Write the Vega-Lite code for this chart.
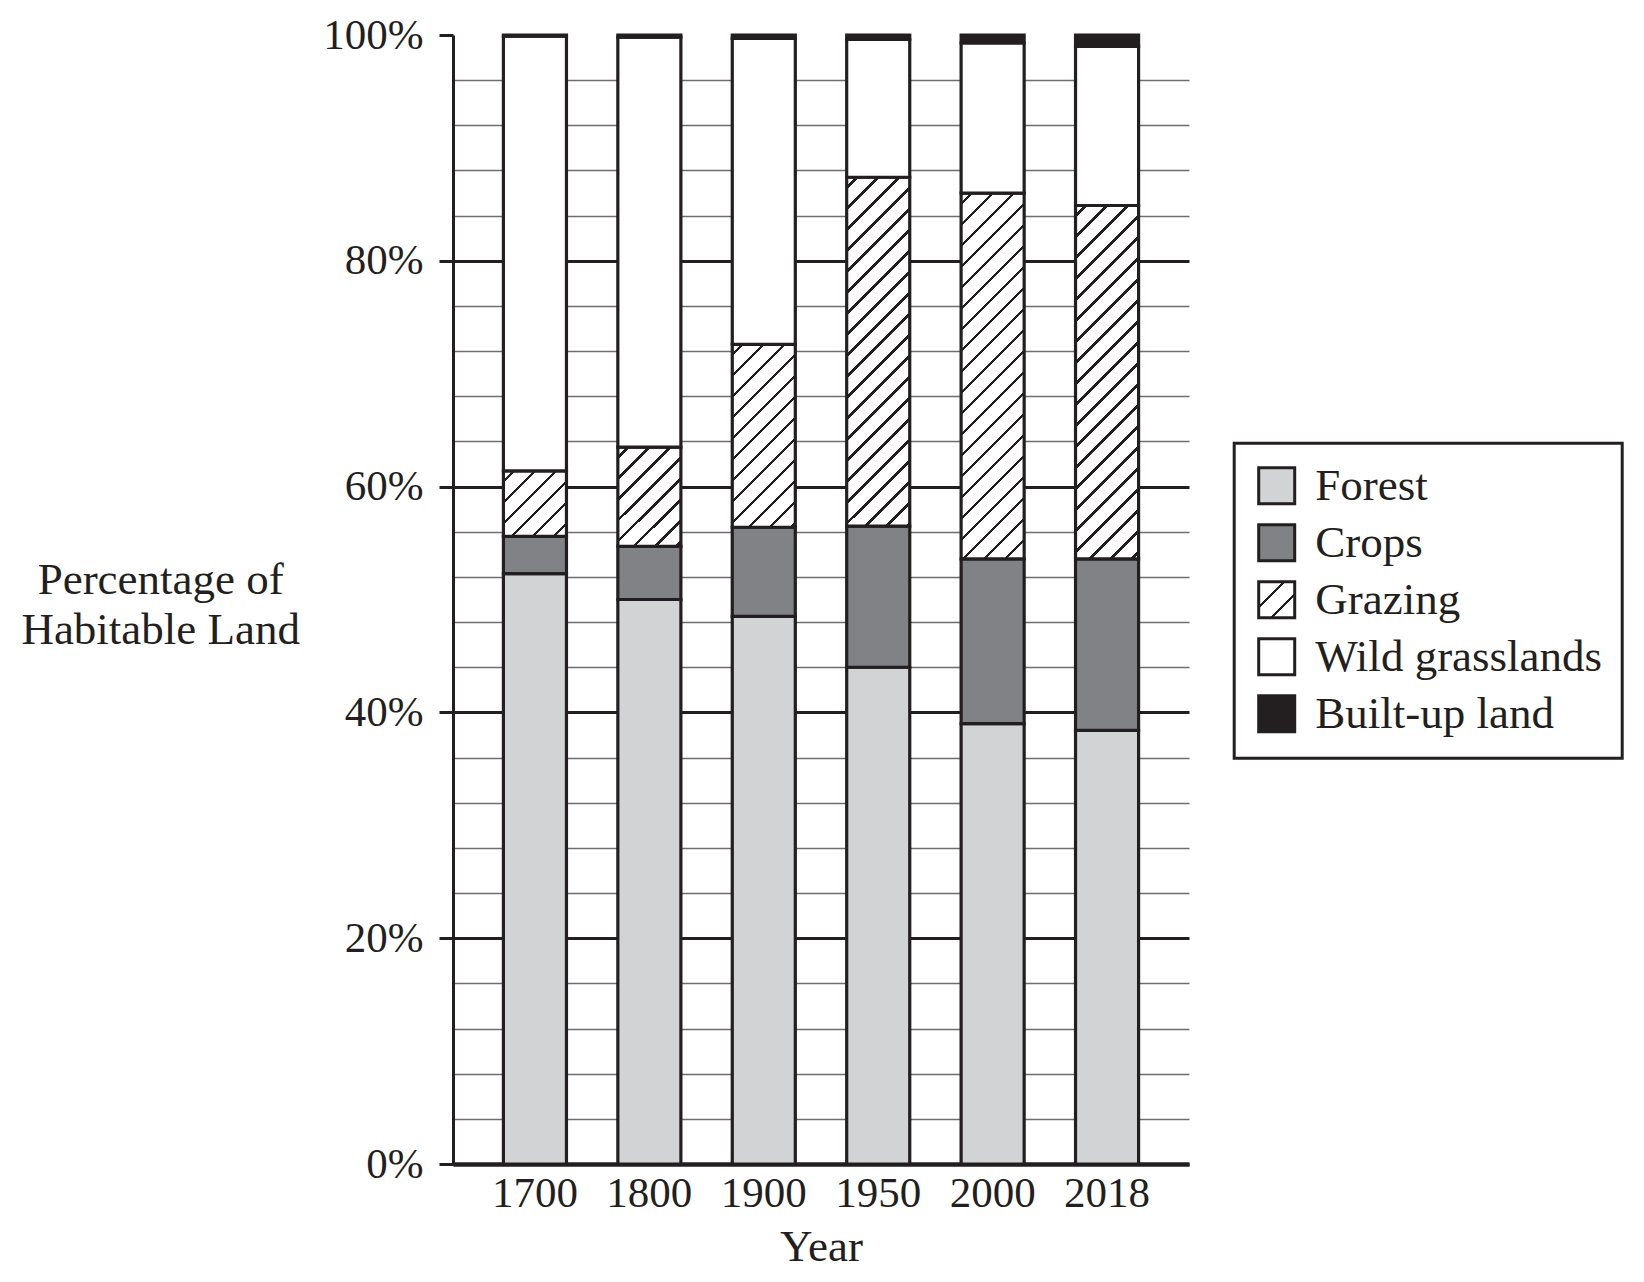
{
  "$schema": "https://vega.github.io/schema/vega-lite/v6.json",
  "autosize": {"type": "none"},
  "padding": {"left": 453, "top": 35, "right": 455, "bottom": 118},
  "width": 736,
  "height": 1129,
  "background": "#ffffff",
  "config": {
    "view": {"stroke": null},
    "font": "Liberation Serif",
    "legend": {"strokeWidth": 3}
  },
  "data": {
    "values": [
      {"Year": "1700", "Category": "Forest", "Value": 52.3},
      {"Year": "1700", "Category": "Crops", "Value": 3.3},
      {"Year": "1700", "Category": "Grazing", "Value": 5.8},
      {"Year": "1700", "Category": "Wild grasslands", "Value": 38.5},
      {"Year": "1700", "Category": "Built-up land", "Value": 0.1},
      {"Year": "1800", "Category": "Forest", "Value": 50.0},
      {"Year": "1800", "Category": "Crops", "Value": 4.7},
      {"Year": "1800", "Category": "Grazing", "Value": 8.8},
      {"Year": "1800", "Category": "Wild grasslands", "Value": 36.3},
      {"Year": "1800", "Category": "Built-up land", "Value": 0.2},
      {"Year": "1900", "Category": "Forest", "Value": 48.5},
      {"Year": "1900", "Category": "Crops", "Value": 7.9},
      {"Year": "1900", "Category": "Grazing", "Value": 16.2},
      {"Year": "1900", "Category": "Wild grasslands", "Value": 27.1},
      {"Year": "1900", "Category": "Built-up land", "Value": 0.3},
      {"Year": "1950", "Category": "Forest", "Value": 44.0},
      {"Year": "1950", "Category": "Crops", "Value": 12.5},
      {"Year": "1950", "Category": "Grazing", "Value": 30.9},
      {"Year": "1950", "Category": "Wild grasslands", "Value": 12.2},
      {"Year": "1950", "Category": "Built-up land", "Value": 0.4},
      {"Year": "2000", "Category": "Forest", "Value": 39.0},
      {"Year": "2000", "Category": "Crops", "Value": 14.6},
      {"Year": "2000", "Category": "Grazing", "Value": 32.4},
      {"Year": "2000", "Category": "Wild grasslands", "Value": 13.3},
      {"Year": "2000", "Category": "Built-up land", "Value": 0.7},
      {"Year": "2018", "Category": "Forest", "Value": 38.4},
      {"Year": "2018", "Category": "Crops", "Value": 15.2},
      {"Year": "2018", "Category": "Grazing", "Value": 31.3},
      {"Year": "2018", "Category": "Wild grasslands", "Value": 14.1},
      {"Year": "2018", "Category": "Built-up land", "Value": 1.0}
    ]
  },
  "transform": [
    {"calculate": "indexof(['Forest','Crops','Grazing','Wild grasslands','Built-up land'], datum.Category)", "as": "ord"}
  ],
  "mark": {"type": "bar", "stroke": "#231f20", "strokeWidth": 3.2, "strokeJoin": "miter"},
  "encoding": {
    "x": {
      "field": "Year",
      "type": "nominal",
      "scale": {"paddingInner": 0.449, "paddingOuter": 0.4406},
      "axis": {
        "title": "Year",
        "labelAngle": 0,
        "labelFont": "Liberation Serif",
        "labelFontSize": 43,
        "labelColor": "#231f20",
        "labelBaseline": "alphabetic",
        "labelPadding": 42,
        "ticks": false,
        "tickSize": 0,
        "domainColor": "#231f20",
        "domainWidth": 4.5,
        "titleFont": "Liberation Serif",
        "titleFontSize": 45,
        "titleFontWeight": "normal",
        "titleColor": "#231f20",
        "titleBaseline": "alphabetic",
        "titleY": 96
      }
    },
    "y": {
      "field": "Value",
      "type": "quantitative",
      "stack": "zero",
      "scale": {"domain": [0, 100], "nice": false},
      "axis": {
        "title": ["Percentage of", "Habitable Land"],
        "values": [0, 4, 8, 12, 16, 20, 24, 28, 32, 36, 40, 44, 48, 52, 56, 60, 64, 68, 72, 76, 80, 84, 88, 92, 96, 100],
        "labelExpr": "datum.value % 20 === 0 ? datum.value + '%' : ''",
        "labelFont": "Liberation Serif",
        "labelFontSize": 43,
        "labelColor": "#231f20",
        "labelPadding": 16,
        "labelOverlap": false,
        "labelFlush": false,
        "labelBaseline": "middle",
        "tickSize": 14,
        "tickWidth": 3,
        "tickColor": "#231f20",
        "tickOpacity": {"condition": {"test": "datum.value % 20 === 0", "value": 1}, "value": 0},
        "domainColor": "#231f20",
        "domainWidth": 3,
        "grid": true,
        "gridColor": {"condition": {"test": "datum.value % 20 === 0", "value": "#231f20"}, "value": "#6d6e71"},
        "gridWidth": {"condition": {"test": "datum.value % 20 === 0", "value": 3}, "value": 1.5},
        "gridOpacity": {"condition": {"test": "datum.value === 100", "value": 0}, "value": 1},
        "titleFont": "Liberation Serif",
        "titleFontSize": 45,
        "titleFontWeight": "normal",
        "titleColor": "#231f20",
        "titleAngle": 0,
        "titleAlign": "center",
        "titleBaseline": "alphabetic",
        "titleLineHeight": 50,
        "titleX": -292.8,
        "titleY": 558
      }
    },
    "order": {"field": "ord", "type": "quantitative"},
    "fill": {
      "field": "Category",
      "type": "nominal",
      "scale": {
        "domain": ["Forest", "Crops", "Grazing", "Wild grasslands", "Built-up land"],
        "range": [
          "#d1d3d4",
          "#808285",
          {"expr": "{gradient: 'linear', x1: 0, y1: 0, x2: 1, y2: 1, stops: [{offset: 0, color: '#fff'}, {offset: 0.33, color: '#fff'}, {offset: 0.33, color: '#231f20'}, {offset: 0.375, color: '#231f20'}, {offset: 0.375, color: '#fff'}, {offset: 0.65, color: '#fff'}, {offset: 0.65, color: '#231f20'}, {offset: 0.695, color: '#231f20'}, {offset: 0.695, color: '#fff'}, {offset: 1, color: '#fff'}]}"},
          "#ffffff",
          "#231f20"
        ]
      },
      "legend": {
        "title": null,
        "orient": "none",
        "legendX": 781.2,
        "legendY": 408.2,
        "strokeColor": "#231f20",
        "padding": 20,
        "rowPadding": 8,
        "labelOffset": 16,
        "labelFont": "Liberation Serif",
        "labelFontSize": 45,
        "labelColor": "#231f20",
        "labelLimit": 500,
        "symbolType": "square",
        "symbolSize": 1296,
        "symbolStrokeColor": "#231f20",
        "symbolStrokeWidth": 3
      },
      "condition": [
        {"test": "datum.Category === 'Grazing' && datum.Year === '1700'", "value": {"gradient": "linear", "x1": 0, "y1": 0, "x2": 3.3638, "y2": 3.4973, "stops": [
          {"offset": 0, "color": "#fff"},
          {"offset": 0.0202, "color": "#fff"}, {"offset": 0.0202, "color": "#231f20"}, {"offset": 0.0274, "color": "#231f20"}, {"offset": 0.0274, "color": "#fff"},
          {"offset": 0.0678, "color": "#fff"}, {"offset": 0.0678, "color": "#231f20"}, {"offset": 0.0751, "color": "#231f20"}, {"offset": 0.0751, "color": "#fff"},
          {"offset": 0.1154, "color": "#fff"}, {"offset": 0.1154, "color": "#231f20"}, {"offset": 0.1227, "color": "#231f20"}, {"offset": 0.1227, "color": "#fff"},
          {"offset": 0.1630, "color": "#fff"}, {"offset": 0.1630, "color": "#231f20"}, {"offset": 0.1703, "color": "#231f20"}, {"offset": 0.1703, "color": "#fff"},
          {"offset": 0.2107, "color": "#fff"}, {"offset": 0.2107, "color": "#231f20"}, {"offset": 0.2179, "color": "#231f20"}, {"offset": 0.2179, "color": "#fff"},
          {"offset": 0.2583, "color": "#fff"}, {"offset": 0.2583, "color": "#231f20"}, {"offset": 0.2655, "color": "#231f20"}, {"offset": 0.2655, "color": "#fff"},
          {"offset": 0.3059, "color": "#fff"}, {"offset": 0.3059, "color": "#231f20"}, {"offset": 0.3132, "color": "#231f20"}, {"offset": 0.3132, "color": "#fff"},
          {"offset": 1, "color": "#fff"}
        ]}},
        {"test": "datum.Category === 'Grazing' && datum.Year === '1800'", "value": {"gradient": "linear", "x1": 0, "y1": 0, "x2": 2.0061, "y2": 3.1652, "stops": [
          {"offset": 0, "color": "#fff"},
          {"offset": 0.0202, "color": "#fff"}, {"offset": 0.0202, "color": "#231f20"}, {"offset": 0.0274, "color": "#231f20"}, {"offset": 0.0274, "color": "#fff"},
          {"offset": 0.0678, "color": "#fff"}, {"offset": 0.0678, "color": "#231f20"}, {"offset": 0.0751, "color": "#231f20"}, {"offset": 0.0751, "color": "#fff"},
          {"offset": 0.1154, "color": "#fff"}, {"offset": 0.1154, "color": "#231f20"}, {"offset": 0.1227, "color": "#231f20"}, {"offset": 0.1227, "color": "#fff"},
          {"offset": 0.1630, "color": "#fff"}, {"offset": 0.1630, "color": "#231f20"}, {"offset": 0.1703, "color": "#231f20"}, {"offset": 0.1703, "color": "#fff"},
          {"offset": 0.2107, "color": "#fff"}, {"offset": 0.2107, "color": "#231f20"}, {"offset": 0.2179, "color": "#231f20"}, {"offset": 0.2179, "color": "#fff"},
          {"offset": 0.2583, "color": "#fff"}, {"offset": 0.2583, "color": "#231f20"}, {"offset": 0.2655, "color": "#231f20"}, {"offset": 0.2655, "color": "#fff"},
          {"offset": 0.3059, "color": "#fff"}, {"offset": 0.3059, "color": "#231f20"}, {"offset": 0.3132, "color": "#231f20"}, {"offset": 0.3132, "color": "#fff"},
          {"offset": 0.3535, "color": "#fff"}, {"offset": 0.3535, "color": "#231f20"}, {"offset": 0.3608, "color": "#231f20"}, {"offset": 0.3608, "color": "#fff"},
          {"offset": 0.4011, "color": "#fff"}, {"offset": 0.4011, "color": "#231f20"}, {"offset": 0.4084, "color": "#231f20"}, {"offset": 0.4084, "color": "#fff"},
          {"offset": 1, "color": "#fff"}
        ]}},
        {"test": "datum.Category === 'Grazing' && datum.Year === '1900'", "value": {"gradient": "linear", "x1": 0, "y1": 0, "x2": 0.7424, "y2": 2.1554, "stops": [
          {"offset": 0, "color": "#fff"},
          {"offset": 0.0202, "color": "#fff"}, {"offset": 0.0202, "color": "#231f20"}, {"offset": 0.0274, "color": "#231f20"}, {"offset": 0.0274, "color": "#fff"},
          {"offset": 0.0678, "color": "#fff"}, {"offset": 0.0678, "color": "#231f20"}, {"offset": 0.0751, "color": "#231f20"}, {"offset": 0.0751, "color": "#fff"},
          {"offset": 0.1154, "color": "#fff"}, {"offset": 0.1154, "color": "#231f20"}, {"offset": 0.1227, "color": "#231f20"}, {"offset": 0.1227, "color": "#fff"},
          {"offset": 0.1630, "color": "#fff"}, {"offset": 0.1630, "color": "#231f20"}, {"offset": 0.1703, "color": "#231f20"}, {"offset": 0.1703, "color": "#fff"},
          {"offset": 0.2107, "color": "#fff"}, {"offset": 0.2107, "color": "#231f20"}, {"offset": 0.2179, "color": "#231f20"}, {"offset": 0.2179, "color": "#fff"},
          {"offset": 0.2583, "color": "#fff"}, {"offset": 0.2583, "color": "#231f20"}, {"offset": 0.2655, "color": "#231f20"}, {"offset": 0.2655, "color": "#fff"},
          {"offset": 0.3059, "color": "#fff"}, {"offset": 0.3059, "color": "#231f20"}, {"offset": 0.3132, "color": "#231f20"}, {"offset": 0.3132, "color": "#fff"},
          {"offset": 0.3535, "color": "#fff"}, {"offset": 0.3535, "color": "#231f20"}, {"offset": 0.3608, "color": "#231f20"}, {"offset": 0.3608, "color": "#fff"},
          {"offset": 0.4011, "color": "#fff"}, {"offset": 0.4011, "color": "#231f20"}, {"offset": 0.4084, "color": "#231f20"}, {"offset": 0.4084, "color": "#fff"},
          {"offset": 0.4487, "color": "#fff"}, {"offset": 0.4487, "color": "#231f20"}, {"offset": 0.4560, "color": "#231f20"}, {"offset": 0.4560, "color": "#fff"},
          {"offset": 0.4964, "color": "#fff"}, {"offset": 0.4964, "color": "#231f20"}, {"offset": 0.5036, "color": "#231f20"}, {"offset": 0.5036, "color": "#fff"},
          {"offset": 0.5440, "color": "#fff"}, {"offset": 0.5440, "color": "#231f20"}, {"offset": 0.5513, "color": "#231f20"}, {"offset": 0.5513, "color": "#fff"},
          {"offset": 0.5916, "color": "#fff"}, {"offset": 0.5916, "color": "#231f20"}, {"offset": 0.5989, "color": "#231f20"}, {"offset": 0.5989, "color": "#fff"},
          {"offset": 1, "color": "#fff"}
        ]}},
        {"test": "datum.Category === 'Grazing' && datum.Year === '1950'", "value": {"gradient": "linear", "x1": 0, "y1": 0, "x2": 0.2210, "y2": 1.2241, "stops": [
          {"offset": 0, "color": "#fff"},
          {"offset": 0.0202, "color": "#fff"}, {"offset": 0.0202, "color": "#231f20"}, {"offset": 0.0274, "color": "#231f20"}, {"offset": 0.0274, "color": "#fff"},
          {"offset": 0.0678, "color": "#fff"}, {"offset": 0.0678, "color": "#231f20"}, {"offset": 0.0751, "color": "#231f20"}, {"offset": 0.0751, "color": "#fff"},
          {"offset": 0.1154, "color": "#fff"}, {"offset": 0.1154, "color": "#231f20"}, {"offset": 0.1227, "color": "#231f20"}, {"offset": 0.1227, "color": "#fff"},
          {"offset": 0.1630, "color": "#fff"}, {"offset": 0.1630, "color": "#231f20"}, {"offset": 0.1703, "color": "#231f20"}, {"offset": 0.1703, "color": "#fff"},
          {"offset": 0.2107, "color": "#fff"}, {"offset": 0.2107, "color": "#231f20"}, {"offset": 0.2179, "color": "#231f20"}, {"offset": 0.2179, "color": "#fff"},
          {"offset": 0.2583, "color": "#fff"}, {"offset": 0.2583, "color": "#231f20"}, {"offset": 0.2655, "color": "#231f20"}, {"offset": 0.2655, "color": "#fff"},
          {"offset": 0.3059, "color": "#fff"}, {"offset": 0.3059, "color": "#231f20"}, {"offset": 0.3132, "color": "#231f20"}, {"offset": 0.3132, "color": "#fff"},
          {"offset": 0.3535, "color": "#fff"}, {"offset": 0.3535, "color": "#231f20"}, {"offset": 0.3608, "color": "#231f20"}, {"offset": 0.3608, "color": "#fff"},
          {"offset": 0.4011, "color": "#fff"}, {"offset": 0.4011, "color": "#231f20"}, {"offset": 0.4084, "color": "#231f20"}, {"offset": 0.4084, "color": "#fff"},
          {"offset": 0.4487, "color": "#fff"}, {"offset": 0.4487, "color": "#231f20"}, {"offset": 0.4560, "color": "#231f20"}, {"offset": 0.4560, "color": "#fff"},
          {"offset": 0.4964, "color": "#fff"}, {"offset": 0.4964, "color": "#231f20"}, {"offset": 0.5036, "color": "#231f20"}, {"offset": 0.5036, "color": "#fff"},
          {"offset": 0.5440, "color": "#fff"}, {"offset": 0.5440, "color": "#231f20"}, {"offset": 0.5513, "color": "#231f20"}, {"offset": 0.5513, "color": "#fff"},
          {"offset": 0.5916, "color": "#fff"}, {"offset": 0.5916, "color": "#231f20"}, {"offset": 0.5989, "color": "#231f20"}, {"offset": 0.5989, "color": "#fff"},
          {"offset": 0.6392, "color": "#fff"}, {"offset": 0.6392, "color": "#231f20"}, {"offset": 0.6465, "color": "#231f20"}, {"offset": 0.6465, "color": "#fff"},
          {"offset": 0.6868, "color": "#fff"}, {"offset": 0.6868, "color": "#231f20"}, {"offset": 0.6941, "color": "#231f20"}, {"offset": 0.6941, "color": "#fff"},
          {"offset": 0.7345, "color": "#fff"}, {"offset": 0.7345, "color": "#231f20"}, {"offset": 0.7417, "color": "#231f20"}, {"offset": 0.7417, "color": "#fff"},
          {"offset": 0.7821, "color": "#fff"}, {"offset": 0.7821, "color": "#231f20"}, {"offset": 0.7893, "color": "#231f20"}, {"offset": 0.7893, "color": "#fff"},
          {"offset": 0.8297, "color": "#fff"}, {"offset": 0.8297, "color": "#231f20"}, {"offset": 0.8370, "color": "#231f20"}, {"offset": 0.8370, "color": "#fff"},
          {"offset": 0.8773, "color": "#fff"}, {"offset": 0.8773, "color": "#231f20"}, {"offset": 0.8846, "color": "#231f20"}, {"offset": 0.8846, "color": "#fff"},
          {"offset": 0.9249, "color": "#fff"}, {"offset": 0.9249, "color": "#231f20"}, {"offset": 0.9322, "color": "#231f20"}, {"offset": 0.9322, "color": "#fff"},
          {"offset": 0.9726, "color": "#fff"}, {"offset": 0.9726, "color": "#231f20"}, {"offset": 0.9798, "color": "#231f20"}, {"offset": 0.9798, "color": "#fff"},
          {"offset": 1, "color": "#fff"}
        ]}},
        {"test": "datum.Category === 'Grazing' && datum.Year === '2000'", "value": {"gradient": "linear", "x1": 0, "y1": 0, "x2": 0.2017, "y2": 1.1709, "stops": [
          {"offset": 0, "color": "#fff"},
          {"offset": 0.0202, "color": "#fff"}, {"offset": 0.0202, "color": "#231f20"}, {"offset": 0.0274, "color": "#231f20"}, {"offset": 0.0274, "color": "#fff"},
          {"offset": 0.0678, "color": "#fff"}, {"offset": 0.0678, "color": "#231f20"}, {"offset": 0.0751, "color": "#231f20"}, {"offset": 0.0751, "color": "#fff"},
          {"offset": 0.1154, "color": "#fff"}, {"offset": 0.1154, "color": "#231f20"}, {"offset": 0.1227, "color": "#231f20"}, {"offset": 0.1227, "color": "#fff"},
          {"offset": 0.1630, "color": "#fff"}, {"offset": 0.1630, "color": "#231f20"}, {"offset": 0.1703, "color": "#231f20"}, {"offset": 0.1703, "color": "#fff"},
          {"offset": 0.2107, "color": "#fff"}, {"offset": 0.2107, "color": "#231f20"}, {"offset": 0.2179, "color": "#231f20"}, {"offset": 0.2179, "color": "#fff"},
          {"offset": 0.2583, "color": "#fff"}, {"offset": 0.2583, "color": "#231f20"}, {"offset": 0.2655, "color": "#231f20"}, {"offset": 0.2655, "color": "#fff"},
          {"offset": 0.3059, "color": "#fff"}, {"offset": 0.3059, "color": "#231f20"}, {"offset": 0.3132, "color": "#231f20"}, {"offset": 0.3132, "color": "#fff"},
          {"offset": 0.3535, "color": "#fff"}, {"offset": 0.3535, "color": "#231f20"}, {"offset": 0.3608, "color": "#231f20"}, {"offset": 0.3608, "color": "#fff"},
          {"offset": 0.4011, "color": "#fff"}, {"offset": 0.4011, "color": "#231f20"}, {"offset": 0.4084, "color": "#231f20"}, {"offset": 0.4084, "color": "#fff"},
          {"offset": 0.4487, "color": "#fff"}, {"offset": 0.4487, "color": "#231f20"}, {"offset": 0.4560, "color": "#231f20"}, {"offset": 0.4560, "color": "#fff"},
          {"offset": 0.4964, "color": "#fff"}, {"offset": 0.4964, "color": "#231f20"}, {"offset": 0.5036, "color": "#231f20"}, {"offset": 0.5036, "color": "#fff"},
          {"offset": 0.5440, "color": "#fff"}, {"offset": 0.5440, "color": "#231f20"}, {"offset": 0.5513, "color": "#231f20"}, {"offset": 0.5513, "color": "#fff"},
          {"offset": 0.5916, "color": "#fff"}, {"offset": 0.5916, "color": "#231f20"}, {"offset": 0.5989, "color": "#231f20"}, {"offset": 0.5989, "color": "#fff"},
          {"offset": 0.6392, "color": "#fff"}, {"offset": 0.6392, "color": "#231f20"}, {"offset": 0.6465, "color": "#231f20"}, {"offset": 0.6465, "color": "#fff"},
          {"offset": 0.6868, "color": "#fff"}, {"offset": 0.6868, "color": "#231f20"}, {"offset": 0.6941, "color": "#231f20"}, {"offset": 0.6941, "color": "#fff"},
          {"offset": 0.7345, "color": "#fff"}, {"offset": 0.7345, "color": "#231f20"}, {"offset": 0.7417, "color": "#231f20"}, {"offset": 0.7417, "color": "#fff"},
          {"offset": 0.7821, "color": "#fff"}, {"offset": 0.7821, "color": "#231f20"}, {"offset": 0.7893, "color": "#231f20"}, {"offset": 0.7893, "color": "#fff"},
          {"offset": 0.8297, "color": "#fff"}, {"offset": 0.8297, "color": "#231f20"}, {"offset": 0.8370, "color": "#231f20"}, {"offset": 0.8370, "color": "#fff"},
          {"offset": 0.8773, "color": "#fff"}, {"offset": 0.8773, "color": "#231f20"}, {"offset": 0.8846, "color": "#231f20"}, {"offset": 0.8846, "color": "#fff"},
          {"offset": 0.9249, "color": "#fff"}, {"offset": 0.9249, "color": "#231f20"}, {"offset": 0.9322, "color": "#231f20"}, {"offset": 0.9322, "color": "#fff"},
          {"offset": 0.9726, "color": "#fff"}, {"offset": 0.9726, "color": "#231f20"}, {"offset": 0.9798, "color": "#231f20"}, {"offset": 0.9798, "color": "#fff"},
          {"offset": 1, "color": "#fff"}
        ]}},
        {"test": "datum.Category === 'Grazing' && datum.Year === '2018'", "value": {"gradient": "linear", "x1": 0, "y1": 0, "x2": 0.2156, "y2": 1.2094, "stops": [
          {"offset": 0, "color": "#fff"},
          {"offset": 0.0202, "color": "#fff"}, {"offset": 0.0202, "color": "#231f20"}, {"offset": 0.0274, "color": "#231f20"}, {"offset": 0.0274, "color": "#fff"},
          {"offset": 0.0678, "color": "#fff"}, {"offset": 0.0678, "color": "#231f20"}, {"offset": 0.0751, "color": "#231f20"}, {"offset": 0.0751, "color": "#fff"},
          {"offset": 0.1154, "color": "#fff"}, {"offset": 0.1154, "color": "#231f20"}, {"offset": 0.1227, "color": "#231f20"}, {"offset": 0.1227, "color": "#fff"},
          {"offset": 0.1630, "color": "#fff"}, {"offset": 0.1630, "color": "#231f20"}, {"offset": 0.1703, "color": "#231f20"}, {"offset": 0.1703, "color": "#fff"},
          {"offset": 0.2107, "color": "#fff"}, {"offset": 0.2107, "color": "#231f20"}, {"offset": 0.2179, "color": "#231f20"}, {"offset": 0.2179, "color": "#fff"},
          {"offset": 0.2583, "color": "#fff"}, {"offset": 0.2583, "color": "#231f20"}, {"offset": 0.2655, "color": "#231f20"}, {"offset": 0.2655, "color": "#fff"},
          {"offset": 0.3059, "color": "#fff"}, {"offset": 0.3059, "color": "#231f20"}, {"offset": 0.3132, "color": "#231f20"}, {"offset": 0.3132, "color": "#fff"},
          {"offset": 0.3535, "color": "#fff"}, {"offset": 0.3535, "color": "#231f20"}, {"offset": 0.3608, "color": "#231f20"}, {"offset": 0.3608, "color": "#fff"},
          {"offset": 0.4011, "color": "#fff"}, {"offset": 0.4011, "color": "#231f20"}, {"offset": 0.4084, "color": "#231f20"}, {"offset": 0.4084, "color": "#fff"},
          {"offset": 0.4487, "color": "#fff"}, {"offset": 0.4487, "color": "#231f20"}, {"offset": 0.4560, "color": "#231f20"}, {"offset": 0.4560, "color": "#fff"},
          {"offset": 0.4964, "color": "#fff"}, {"offset": 0.4964, "color": "#231f20"}, {"offset": 0.5036, "color": "#231f20"}, {"offset": 0.5036, "color": "#fff"},
          {"offset": 0.5440, "color": "#fff"}, {"offset": 0.5440, "color": "#231f20"}, {"offset": 0.5513, "color": "#231f20"}, {"offset": 0.5513, "color": "#fff"},
          {"offset": 0.5916, "color": "#fff"}, {"offset": 0.5916, "color": "#231f20"}, {"offset": 0.5989, "color": "#231f20"}, {"offset": 0.5989, "color": "#fff"},
          {"offset": 0.6392, "color": "#fff"}, {"offset": 0.6392, "color": "#231f20"}, {"offset": 0.6465, "color": "#231f20"}, {"offset": 0.6465, "color": "#fff"},
          {"offset": 0.6868, "color": "#fff"}, {"offset": 0.6868, "color": "#231f20"}, {"offset": 0.6941, "color": "#231f20"}, {"offset": 0.6941, "color": "#fff"},
          {"offset": 0.7345, "color": "#fff"}, {"offset": 0.7345, "color": "#231f20"}, {"offset": 0.7417, "color": "#231f20"}, {"offset": 0.7417, "color": "#fff"},
          {"offset": 0.7821, "color": "#fff"}, {"offset": 0.7821, "color": "#231f20"}, {"offset": 0.7893, "color": "#231f20"}, {"offset": 0.7893, "color": "#fff"},
          {"offset": 0.8297, "color": "#fff"}, {"offset": 0.8297, "color": "#231f20"}, {"offset": 0.8370, "color": "#231f20"}, {"offset": 0.8370, "color": "#fff"},
          {"offset": 0.8773, "color": "#fff"}, {"offset": 0.8773, "color": "#231f20"}, {"offset": 0.8846, "color": "#231f20"}, {"offset": 0.8846, "color": "#fff"},
          {"offset": 0.9249, "color": "#fff"}, {"offset": 0.9249, "color": "#231f20"}, {"offset": 0.9322, "color": "#231f20"}, {"offset": 0.9322, "color": "#fff"},
          {"offset": 0.9726, "color": "#fff"}, {"offset": 0.9726, "color": "#231f20"}, {"offset": 0.9798, "color": "#231f20"}, {"offset": 0.9798, "color": "#fff"},
          {"offset": 1, "color": "#fff"}
        ]}}
      ]
    }
  }
}
